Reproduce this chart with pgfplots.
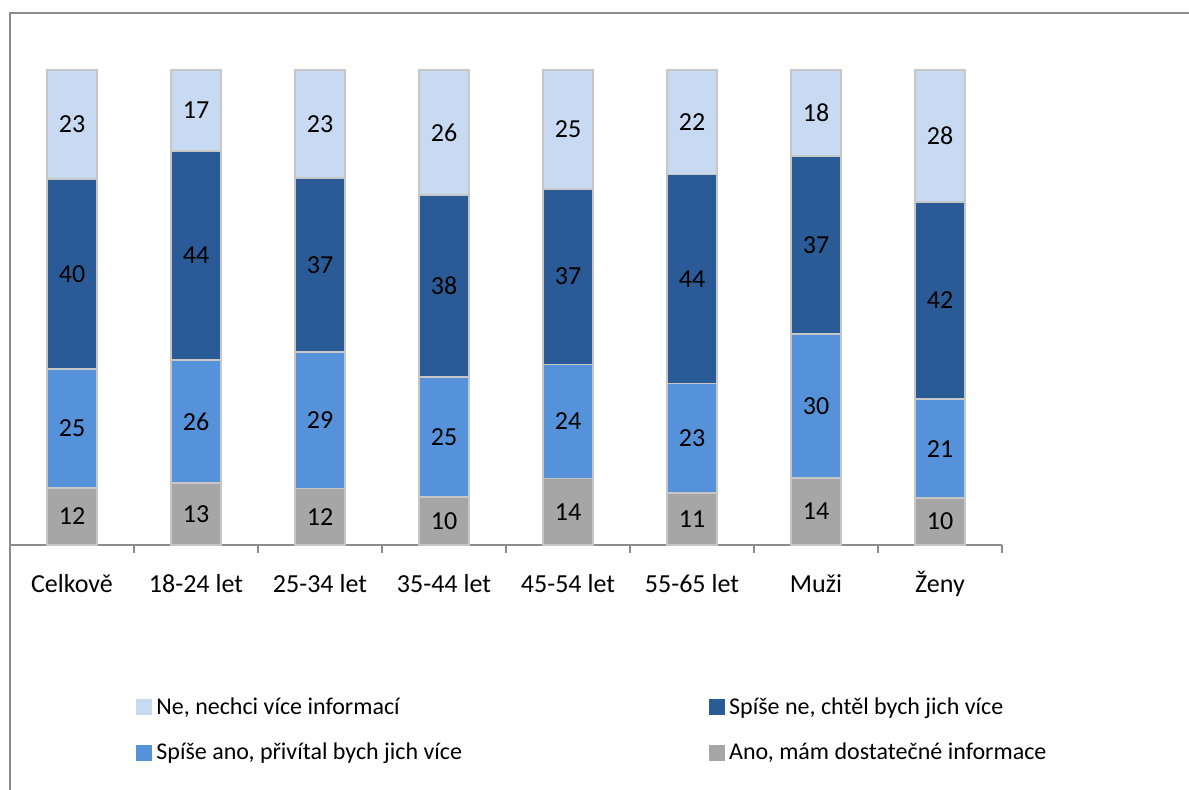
\documentclass[border=0pt]{standalone}
\usepackage{pgfplots}
\pgfplotsset{compat=1.18}
\usepackage{pgfplotstable}
\usepackage{fontspec}
\setmainfont{Carlito}
\definecolor{cgray}{HTML}{A6A6A6}
\definecolor{cmid}{HTML}{5592DA}
\definecolor{cdark}{HTML}{2A5B96}
\definecolor{clight}{HTML}{C8DAF2}
\definecolor{cborder}{HTML}{8C8C8C}
\pgfplotstableread{
x a b c d s
0 12 25 40 23 100
1 13 26 44 17 100
2 12 29 37 23 101
3 10 25 38 26 99
4 14 24 37 25 100
5 11 23 44 22 100
6 14 30 37 18 99
7 10 21 42 28 101
}\data
\pgfplotsset{
  seg/.style={
    fill=#1, draw=black!22, line width=0.9pt,
  },
  lab/.style={
    point meta=explicit symbolic,
    nodes near coords={\pgfplotspointmeta},
    every node near coord/.style={anchor=center, font=\fontsize{13}{15}\selectfont, text=black},
  },
}
\begin{document}
\begin{tikzpicture}
\path[use as bounding box] (0,0) rectangle (594.5pt,395pt);
\begin{axis}[
  at={(5pt,122.5pt)}, anchor=south west,
  scale only axis, width=496pt, height=237.5pt,
  ybar stacked, bar width=25pt,
  xmin=-0.5, xmax=7.5, ymin=0, ymax=100,
  axis y line=none, axis x line*=bottom,
  x axis line style={cborder, line width=1pt},
  xtick={0,...,7},
  xticklabels={Celkově,18-24 let,25-34 let,35-44 let,45-54 let,55-65 let,Muži,Ženy},
  major tick length=0pt,
  xticklabel style={font=\fontsize{13}{15}\selectfont, text height=9pt, text depth=3pt, yshift=-11pt},
  extra x ticks={-0.5,0.5,...,7.5},
  extra x tick labels={},
  extra x tick style={major tick length=4pt, xtick align=outside, tick style={cborder, line width=1pt}},
  legend columns=2,
  reverse legend,
  legend cell align=left,
  legend style={draw=none, fill=none, at={(0,0)}, anchor=north west, xshift=60pt, yshift=-72pt,
    font=\fontsize{12}{14}\selectfont,
    /tikz/every even column/.append style={column sep=121.5pt},
    row sep=9pt},
  legend image code/.code={\fill[#1, draw=none] (0pt,-4pt) rectangle (8pt,4pt);},
  clip=false,
]
\addplot[seg=cgray, lab] table[x=x, y expr=\thisrow{a}*100/\thisrow{s}, meta=a] {\data};
\addplot[seg=cmid, lab] table[x=x, y expr=\thisrow{b}*100/\thisrow{s}, meta=b] {\data};
\addplot[seg=cdark, lab] table[x=x, y expr=\thisrow{c}*100/\thisrow{s}, meta=c] {\data};
\addplot[seg=clight, lab] table[x=x, y expr=\thisrow{d}*100/\thisrow{s}, meta=d] {\data};
\legend{Ano{,} mám dostatečné informace, Spíše ano{,} přivítal bych jich více, Spíše ne{,} chtěl bych jich více, Ne{,} nechci více informací}
\end{axis}
\draw[cborder, line width=0.7pt] (5pt,0pt) -- (5pt,388.5pt) -- (594.5pt,388.5pt);
\end{tikzpicture}
\end{document}
